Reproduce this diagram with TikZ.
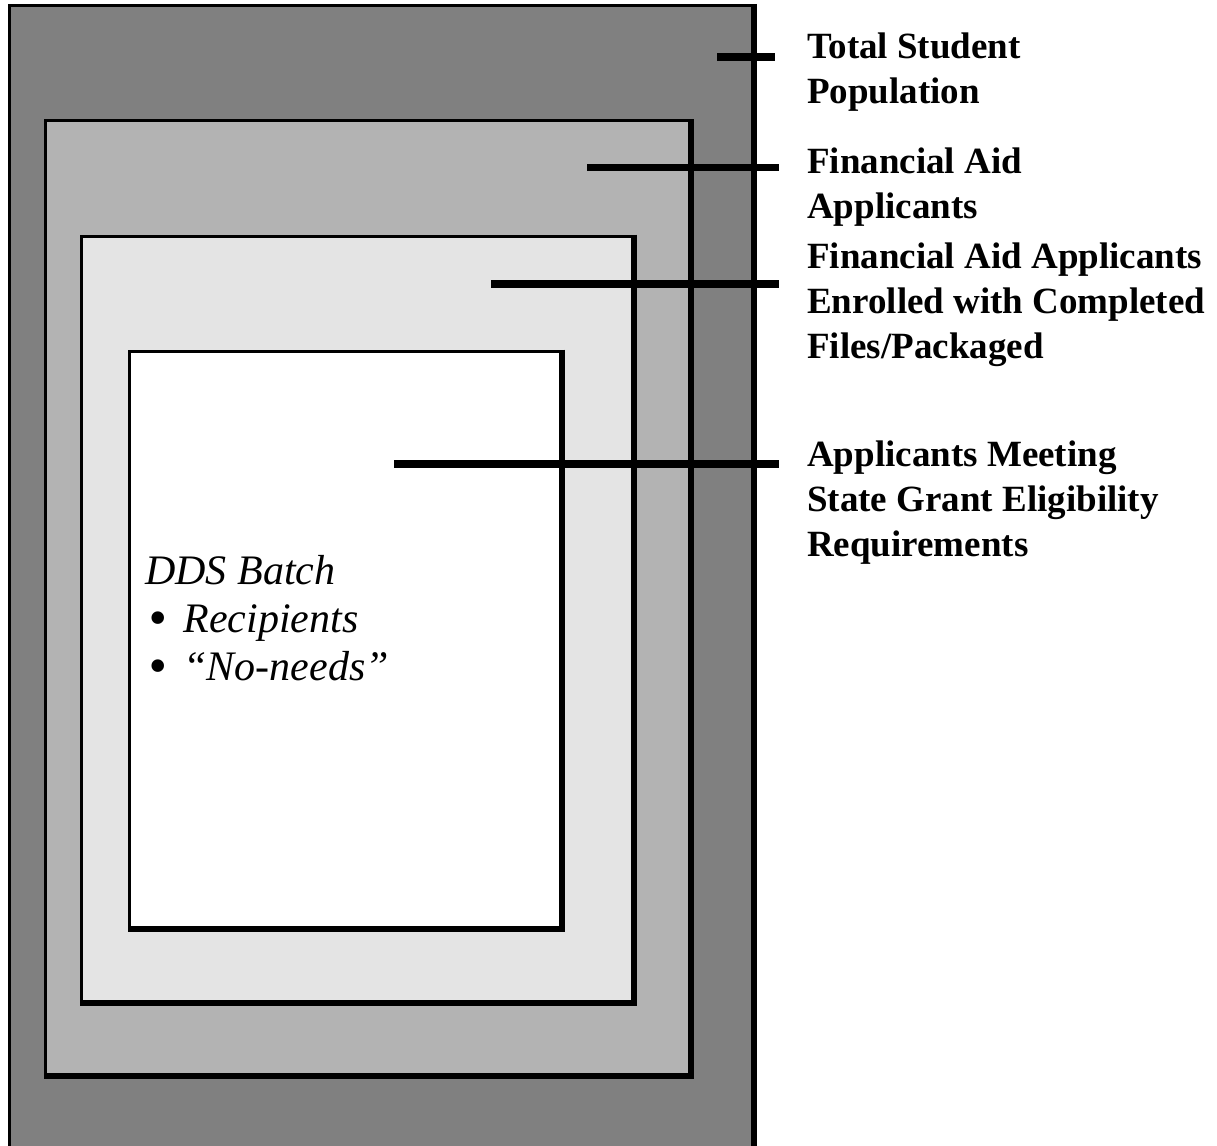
\documentclass[tikz,border=0pt]{standalone}
\usepackage{fontspec}
\usepackage{graphicx}
\setmainfont{Liberation Serif}
\definecolor{gA}{HTML}{808080}
\definecolor{gB}{HTML}{B3B3B3}
\definecolor{gC}{HTML}{E4E4E4}
\newcommand\shbox[5]{%
  \filldraw[fill=#5,frame] (#1,#2) rectangle (#3,#4);
  \draw[shadowedge] (#3,#2-1.5) -- (#3,#4+3);
  \draw[shadowedge] (#1-1.5,#4) -- (#3+3,#4);}
\newcommand\bigbul{\hspace*{3pt}\raisebox{-3pt}{\scalebox{1.25}{\textbullet}}\hspace{17pt}}
\begin{document}
\begin{tikzpicture}[x=1pt,y=-1pt,
  frame/.style={line width=3pt},
  shadowedge/.style={line width=6pt},
  leader/.style={line width=7.5pt},
  lab/.style={anchor=base west, align=left, inner sep=0pt, font=\fontsize{37}{45}\selectfont\bfseries},
  dds/.style={anchor=base west, align=left, inner sep=0pt, font=\fontsize{42}{48}\selectfont\itshape}]
\clip (0,0) rectangle (1217,1145);
\fill[white] (0,0) rectangle (1217,1145);
% nested boxes
\shbox{9.5}{5.5}{754}{1200}{gA}
\shbox{45.5}{121}{691}{1076}{gB}
\shbox{81.5}{236}{634}{1003}{gC}
\shbox{129.5}{351}{561.5}{929}{white}
% leader ends
\coordinate (s1) at (717,57);   \coordinate (e1) at (775,57);
\coordinate (s2) at (587,167.5); \coordinate (e2) at (779,167.5);
\coordinate (s3) at (491,284);  \coordinate (e3) at (779,284);
\coordinate (s4) at (394,464);  \coordinate (e4) at (779,464);
\draw[leader] (s1) -- (e1);
\draw[leader] (s2) -- (e2);
\draw[leader] (s3) -- (e3);
\draw[leader] (s4) -- (e4);
% labels (anchor = baseline of last line)
\node[lab] (t1) at (807,104) {Total Student\\Population};
\node[lab] (t2) at (807,218) {Financial Aid\\Applicants};
\node[lab] (t3) at (807,358) {Financial Aid Applicants\\Enrolled with Completed\\Files/Packaged};
\node[lab] (t4) at (807,556) {Applicants Meeting\\State Grant Eligibility\\Requirements};
\node[dds] (d) at (145,680) {DDS Batch\\\bigbul Recipients\\\bigbul “No-needs”};
\end{tikzpicture}
\end{document}
